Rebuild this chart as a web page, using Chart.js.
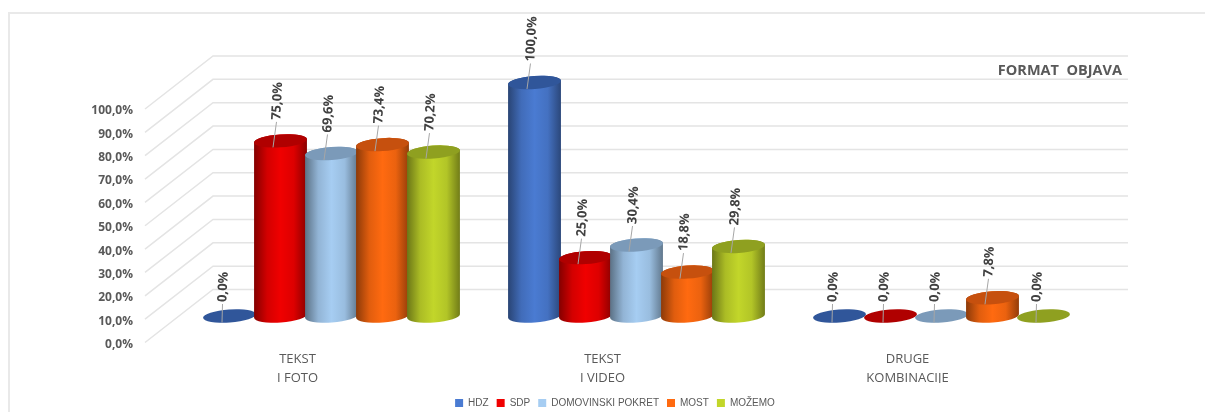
<!DOCTYPE html>
<html>
<head>
<meta charset="utf-8">
<script src="https://cdn.jsdelivr.net/npm/chart.js@4/dist/chart.umd.js"></script>
<style>
    html, body { margin: 0; padding: 0; background: #fff; }
    #wrap { position: relative; width: 1205px; height: 412px; overflow: hidden; }
    #frame { position: absolute; left: 8px; top: 12px; width: 1300px; height: 500px; border: 2px solid #e9e9e9; box-sizing: border-box; }
    canvas { position: absolute; left: 0; top: 0; }
</style>
</head>
<body>
<div id="wrap">
    <div id="frame"></div>
    <canvas id="chart" width="1205" height="412"></canvas>
</div>
<script>
// Data
const categories = [['TEKST', 'I FOTO'], ['TEKST', 'I VIDEO'], ['DRUGE', 'KOMBINACIJE']];
const hdz = [0, 100, 0];
const sdp = [75, 25, 0];
const domovinski = [69.6, 30.4, 0];
const most = [73.4, 18.8, 7.8];
const mozemo = [70.2, 29.8, 0];
const seriesNames = ['HDZ', 'SDP', 'DOMOVINSKI POKRET', 'MOST', 'MOŽEMO'];
const chartTitle = 'FORMAT  OBJAVA';

// Colours: side of the cylinder, then its top
const sideColors = ['#4a7bd2', '#f00000', '#a6cdf2', '#ff6a10', '#c2d62a'];
const topColors = ['#30569a', '#b00000', '#7b9ab9', '#c6500e', '#8fa020'];

const TEXT_COLOR = '#595959';
const GRID_COLOR = '#e4e4e4';
// the 3D look: back wall sits this far from the front plane, bars stand half way
const DEPTH_X = 68;
const DEPTH_Y = -53;
const TILT = -4 * Math.PI / 180;

function pct(v) {
    return v.toFixed(1).replace('.', ',') + '%';
}

function shade(hex, f) {
    const n = parseInt(hex.slice(1), 16);
    const r = Math.round((n >> 16 & 255) * f);
    const g = Math.round((n >> 8 & 255) * f);
    const b = Math.round((n & 255) * f);
    return `rgb(${r},${g},${b})`;
}

function drawWall(chart) {
    const { ctx, chartArea, scales } = chart;
    ctx.save();
    ctx.strokeStyle = GRID_COLOR;
    ctx.lineWidth = 1.5;
    scales.y.ticks.forEach(t => {
        const y = scales.y.getPixelForValue(t.value);
        ctx.beginPath();
        ctx.moveTo(chartArea.left, y);
        ctx.lineTo(chartArea.left + DEPTH_X, y + DEPTH_Y);
        ctx.lineTo(chartArea.right + DEPTH_X, y + DEPTH_Y);
        ctx.stroke();
    });
    ctx.restore();
}

function drawCylinder(ctx, bar, index) {
    const a = bar.width / 2 + 1;
    const b = 6.5;
    const cx = bar.x + DEPTH_X / 2;
    const topY = bar.y + DEPTH_Y / 2;
    const baseY = bar.base + DEPTH_Y / 2;
    const col = sideColors[index];

    if (baseY - topY > 0.5) {
        const grad = ctx.createLinearGradient(cx - a, 0, cx + a, 0);
        grad.addColorStop(0, shade(col, 0.55));
        grad.addColorStop(0.25, shade(col, 0.88));
        grad.addColorStop(0.5, col);
        grad.addColorStop(0.75, shade(col, 0.92));
        grad.addColorStop(1, shade(col, 0.58));
        ctx.fillStyle = grad;
        ctx.beginPath();
        ctx.ellipse(cx, baseY, a, b, TILT, 0, Math.PI);
        ctx.ellipse(cx, topY, a, b, TILT, Math.PI, Math.PI * 2);
        ctx.closePath();
        ctx.fill();
    }
    ctx.fillStyle = topColors[index];
    ctx.beginPath();
    ctx.ellipse(cx, topY, a, b, TILT, 0, Math.PI * 2);
    ctx.fill();
}

function drawLabel(ctx, bar, value) {
    const cx = bar.x + DEPTH_X / 2;
    const topY = bar.y + DEPTH_Y / 2;
    const endX = value === 0 ? cx - 7 : cx - 4;
    const gap = value === 0 ? 12 : 19;
    ctx.strokeStyle = '#a6a6a6';
    ctx.lineWidth = 1;
    ctx.beginPath();
    ctx.moveTo(cx - 7.5, topY + 6.5);
    ctx.lineTo(endX, topY - gap);
    ctx.stroke();

    ctx.save();
    ctx.translate(endX, topY - gap - 2);
    ctx.rotate(-87 * Math.PI / 180);
    ctx.fillStyle = '#404040';
    ctx.font = 'bold 13px "Open Sans"';
    ctx.textAlign = 'left';
    ctx.textBaseline = 'middle';
    ctx.fillText(pct(value), 0, 0);
    ctx.restore();
}

const cylinderPlugin = {
    id: 'cylinders',
    afterLayout(chart) {
        // legend sits off centre and lower in the original
        chart.legend.left = 170;
        chart.legend.right = 1060;
        chart.legend.top += 7;
        chart.legend.bottom += 7;
        // Open Sans rides high on its middle baseline, nudge the value labels down
        chart.scales.y.getLabelItems().forEach(item => {
            item.options.translation[1] += 2;
        });
    },
    beforeDatasetsDraw(chart) {
        const { ctx } = chart;
        drawWall(chart);
        ctx.save();
        categories.forEach((c, ci) => {
            chart.data.datasets.forEach((ds, di) => {
                drawCylinder(ctx, chart.getDatasetMeta(di).data[ci], di);
            });
        });
        categories.forEach((c, ci) => {
            chart.data.datasets.forEach((ds, di) => {
                drawLabel(ctx, chart.getDatasetMeta(di).data[ci], ds.data[ci]);
            });
        });
        ctx.fillStyle = TEXT_COLOR;
        ctx.font = 'bold 14.5px "Open Sans"';
        ctx.textAlign = 'right';
        ctx.textBaseline = 'middle';
        ctx.fillText(chartTitle, 1122, 71);
        ctx.restore();
        return false; // bars are drawn above, skip the flat ones
    }
};

const allSeries = [hdz, sdp, domovinski, most, mozemo];

new Chart(document.getElementById('chart'), {
    type: 'bar',
    data: {
        labels: categories,
        datasets: allSeries.map((values, i) => ({
            label: seriesNames[i],
            data: values,
            backgroundColor: sideColors[i],
            categoryPercentage: 0.836,
            barPercentage: 1
        }))
    },
    options: {
        responsive: false,
        animation: false,
        layout: { padding: { top: 109, right: 145, left: 0, bottom: 1 } },
        scales: {
            x: {
                grid: { display: false },
                border: { display: false },
                ticks: {
                    color: TEXT_COLOR,
                    font: { family: 'Open Sans', size: 13, lineHeight: 1.4 },
                    padding: 0,
                    maxRotation: 0
                },
                afterFit(scale) { scale.height = 40.5; }
            },
            y: {
                min: 0,
                max: 100,
                grid: { display: false },
                border: { display: false },
                ticks: {
                    stepSize: 10,
                    color: TEXT_COLOR,
                    font: { family: 'Open Sans', size: 12, weight: 'bold' },
                    padding: 4,
                    callback: v => pct(v)
                },
                afterFit(scale) { scale.width = 145; }
            }
        },
        plugins: {
            tooltip: { enabled: false },
            legend: {
                position: 'bottom',
                labels: {
                    color: TEXT_COLOR,
                    font: { family: 'Liberation Sans', size: 10 },
                    boxWidth: 8,
                    boxHeight: 8,
                    padding: 8
                }
            }
        }
    },
    plugins: [cylinderPlugin]
});
</script>
</body>
</html>
